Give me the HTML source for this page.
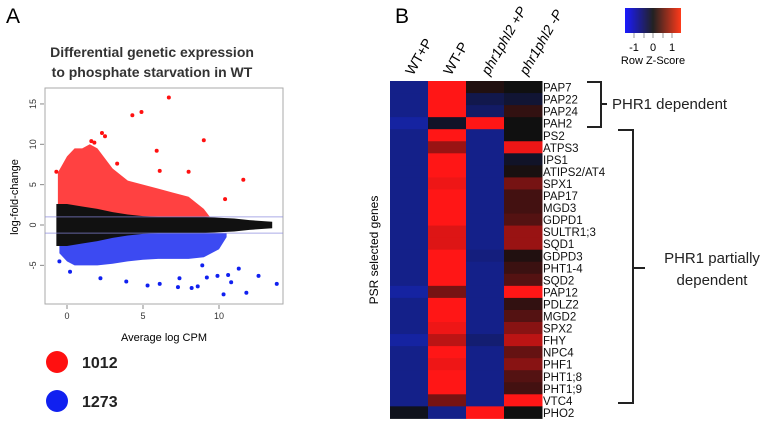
<!DOCTYPE html>
<html><head><meta charset="utf-8"><style>
body{margin:0;background:#fff;font-family:"Liberation Sans",sans-serif}
svg{display:block}
</style></head><body>
<svg id="fig" width="762" height="427" viewBox="0 0 762 427" xmlns="http://www.w3.org/2000/svg" font-family="Liberation Sans, sans-serif">
<text x="6" y="23" font-size="21">A</text>
<text x="152" y="57" font-size="14" font-weight="bold" fill="#333" text-anchor="middle">Differential genetic expression</text>
<text x="152" y="77" font-size="14" font-weight="bold" fill="#333" text-anchor="middle">to phosphate starvation in WT</text>
<g id="ma"></g>
<text x="18" y="197" font-size="11" transform="rotate(-90 18 197)" text-anchor="middle">log-fold-change</text>
<text x="164" y="341" font-size="11" text-anchor="middle">Average log CPM</text>
<circle cx="57" cy="362" r="11" fill="#ff1010"/>
<text x="82" y="368" font-size="16" font-weight="bold" fill="#222">1012</text>
<circle cx="57" cy="401" r="11" fill="#1020f0"/>
<text x="82" y="407" font-size="16" font-weight="bold" fill="#222">1273</text>

<text x="395" y="23" font-size="21">B</text>
<g id="hm"></g>
<text x="378" y="250" font-size="12" transform="rotate(-90 378 250)" text-anchor="middle">PSR selected genes</text>
<defs><linearGradient id="cb" x1="0" x2="1"><stop offset="0" stop-color="#1a1aff"/><stop offset="0.5" stop-color="#222"/><stop offset="1" stop-color="#ff3a1a"/></linearGradient></defs>
<rect x="625" y="8" width="56" height="25" fill="url(#cb)"/>
<g stroke="#999" stroke-width="1"><line x1="634" y1="33" x2="634" y2="38"/><line x1="644" y1="33" x2="644" y2="38"/><line x1="653" y1="33" x2="653" y2="38"/><line x1="663" y1="33" x2="663" y2="38"/><line x1="672" y1="33" x2="672" y2="38"/></g>
<text x="634" y="51" font-size="11" text-anchor="middle">-1</text>
<text x="653" y="51" font-size="11" text-anchor="middle">0</text>
<text x="672" y="51" font-size="11" text-anchor="middle">1</text>
<text x="653" y="64" font-size="11" text-anchor="middle">Row Z-Score</text>
<path d="M587 82H601V127H587M601 104H607" fill="none" stroke="#222" stroke-width="2"/>
<text x="612" y="109" font-size="15" fill="#222">PHR1 dependent</text>
<path d="M618 130H633V403H618M633 268H645" fill="none" stroke="#222" stroke-width="2"/>
<text x="712" y="263" font-size="15" fill="#222" text-anchor="middle">PHR1 partially</text>
<text x="712" y="285" font-size="15" fill="#222" text-anchor="middle">dependent</text>
</svg>
<script>
// ---- MA plot data ----
const xTicks=[0,5,10];
const yTicks=[-5,0,5,10,15];
const upEnvX=[-0.6,-0.3,0,0.5,1,1.5,2,3,4,5,6,7,8,9,9.4];
const upEnvTop=[6.5,7.5,8.5,9.5,9.5,10,9.5,7,5.5,5,4.5,4,3.5,2,1];
const bandX=[-0.7,0,1,2,3,4,5,6,7,8,9,10,11,12,13.5];
const bandHalf=[2.6,2.6,2.3,2,1.6,1.3,1.1,1.0,1.0,1.0,1.0,0.9,0.8,0.6,0.4];
const dnEnvX=[-0.5,0,0.5,1,2,3,4,5,6,7,8,9,10,10.5];
const dnEnvBot=[-3.5,-4.5,-5,-5,-5,-4.8,-4.5,-4.3,-4.2,-4.2,-4.2,-4,-3,-1.5];
const upOutX=[4.3,4.9,6.7,2.3,2.5,9,5.9,11.6,10.4,3.3,8,6.1,-0.7,1.6,1.8];
const upOutY=[13.6,14,15.8,11.4,11,10.5,9.2,5.6,3.2,7.6,6.6,6.7,6.6,10.4,10.2];
const dnOutX=[10.3,11.8,13.8,12.6,8.2,8.6,7.3,5.3,6.1,9.2,10.8,11.3,-0.5,0.2,2.2,3.9,7.4,9.9,10.6,8.9];
const dnOutY=[-8.6,-8.4,-7.3,-6.3,-7.8,-7.6,-7.7,-7.5,-7.3,-6.5,-7.1,-5.4,-4.5,-5.8,-6.6,-7,-6.6,-6.3,-6.2,-5];
const sx=v=>67+v*15.2, sy=v=>225-v*8.07;
const NS="http://www.w3.org/2000/svg";
function mk(tag,attrs,parent){const e=document.createElementNS(NS,tag);for(const k in attrs)e.setAttribute(k,attrs[k]);parent.appendChild(e);return e;}
const ma=document.getElementById('ma');
const frame=mk('rect',{x:45,y:88,width:238,height:216,fill:'none',stroke:'#aaa'},ma);


let d='M'+upEnvX.map((x,i)=>sx(x)+' '+sy(upEnvTop[i])).join(' L')+' L'+sx(upEnvX[upEnvX.length-1])+' '+sy(1)+' L'+sx(upEnvX[0])+' '+sy(1)+'Z';
const red=mk('path',{d:d,fill:'#ff2020',opacity:0.85},ma);


d='M'+dnEnvX.map((x,i)=>sx(x)+' '+sy(dnEnvBot[i])).join(' L')+' L'+sx(dnEnvX[dnEnvX.length-1])+' '+sy(-1)+' L'+sx(dnEnvX[0])+' '+sy(-1)+'Z';
const blue=mk('path',{d:d,fill:'#1a2af0',opacity:0.85},ma);


d='M'+bandX.map((x,i)=>sx(x)+' '+sy(bandHalf[i])).join(' L')+' L'+bandX.slice().reverse().map((x,i)=>sx(x)+' '+sy(-bandHalf[bandHalf.length-1-i])).join(' L')+'Z';
const band=mk('path',{d:d,fill:'#111'},ma);


[1,-1].forEach(v=>{const l=mk('line',{x1:45,x2:283,y1:sy(v),y2:sy(v),stroke:'#8888dd','stroke-width':1,opacity:0.7},ma);

});
upOutX.forEach((x,i)=>{const c=mk('circle',{cx:sx(x),cy:sy(upOutY[i]),r:2,fill:'#ff1010'},ma);

});
dnOutX.forEach((x,i)=>{const c=mk('circle',{cx:sx(x),cy:sy(dnOutY[i]),r:2,fill:'#1020f0'},ma);

});
xTicks.forEach(v=>{mk('line',{x1:sx(v),x2:sx(v),y1:305,y2:309,stroke:'#888'},ma);
const t=mk('text',{x:sx(v),y:319,'font-size':9,'text-anchor':'middle',fill:'#333'},ma);t.textContent=v;

});
yTicks.forEach(v=>{mk('line',{x1:40,x2:44,y1:sy(v),y2:sy(v),stroke:'#888'},ma);
const t=mk('text',{x:36,y:sy(v),'font-size':9,'text-anchor':'middle',fill:'#333',transform:`rotate(-90 36 ${sy(v)})`},ma);t.textContent=v;

});

// ---- heatmap data ----
const conditions=['WT+P','WT-P','phr1phl2 +P','phr1phl2 -P'];
const genes=['PAP7','PAP22','PAP24','PAH2','PS2','ATPS3','IPS1','ATIPS2/AT4','SPX1','PAP17','MGD3','GDPD1','SULTR1;3','SQD1','GDPD3','PHT1-4','SQD2','PAP12','PDLZ2','MGD2','SPX2','FHY','NPC4','PHF1','PHT1;8','PHT1;9','VTC4','PHO2'];
const colWT=[-1,-1,-1,-1.2,-1,-1,-1,-1,-1,-1,-1,-1,-1,-1,-1,-1,-1,-1.2,-1,-1,-1,-1.2,-1,-1,-1,-1,-1,-0.1];
const colWTm=[1.4,1.4,1.4,-0.2,1.4,0.8,1.4,1.4,1.3,1.4,1.4,1.4,1.2,1.2,1.4,1.4,1.4,0.6,1.4,1.4,1.3,1.0,1.4,1.3,1.4,1.4,0.6,-1];
const colMut=[0.1,-0.5,-0.7,1.4,-1,-1,-1,-1,-1,-1,-1,-1,-1,-1,-0.9,-1,-1,-1,-1,-1,-1,-0.8,-1,-1,-1,-1,-1,1.4];
const colMutm=[0,-0.3,0.2,0,0,1.3,-0.2,0.05,0.6,0.3,0.3,0.4,0.8,0.8,0.1,0.25,0.4,1.4,0.2,0.4,0.7,1.0,0.5,0.7,0.4,0.3,1.4,0];
const cols=[colWT,colWTm,colMut,colMutm];
function zc(z){const t=Math.min(1,Math.abs(z)/1.4);const b=[16,16,16];
const f=z<0?[22,38,185]:[255,22,22];
return 'rgb('+b.map((v,i)=>Math.round(v+(f[i]-v)*t)).join(',')+')';}
const hm=document.getElementById('hm');
const X0=390,CW=38,Y0=81,RH=12.05;
cols.forEach((col,ci)=>{col.forEach((z,ri)=>{const r=mk('rect',{x:X0+ci*CW,y:Y0+ri*RH,width:CW+0.5,height:RH+0.5,fill:zc(z)},hm);

});
const hx=X0+ci*CW+CW/2+4, hy=76;
const t=mk('text',{x:hx,y:hy,'font-size':14,transform:`rotate(-60 ${hx} ${hy})`,'font-style':ci>1?'italic':'normal'},hm);t.textContent=conditions[ci];

});
genes.forEach((g,ri)=>{const t=mk('text',{x:543,y:Y0+ri*RH+RH-1.5,'font-size':11.5,fill:'#111'},hm);t.textContent=g;

});
</script>
</body></html>
